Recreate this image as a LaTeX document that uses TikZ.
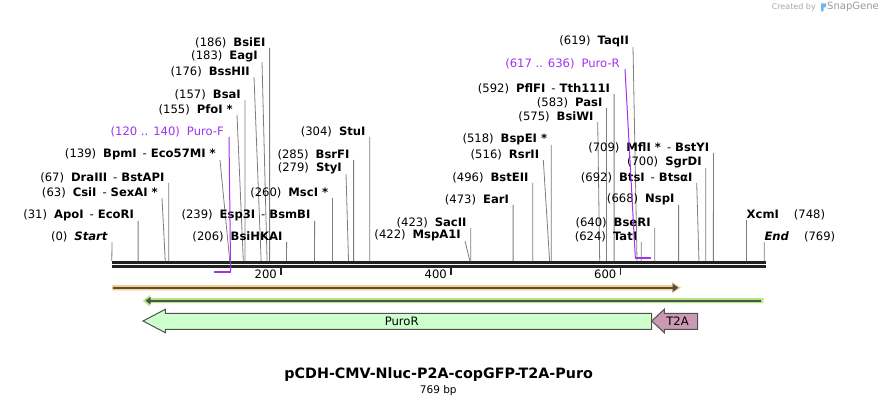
\documentclass[tikz,border=0pt]{standalone}
\usepackage{fontspec}
\setmainfont{DejaVu Sans}[ItalicFont={DejaVu Sans Oblique},BoldItalicFont={DejaVu Sans Bold Oblique}]
\usetikzlibrary{arrows.meta}

\definecolor{cutgray}{RGB}{125,125,125}
\definecolor{primer}{RGB}{160,50,240}
\definecolor{dnablack}{RGB}{34,34,34}
\definecolor{featline}{RGB}{80,80,80}
\definecolor{cmvorange}{RGB}{253,205,130}
\definecolor{bandgreen}{RGB}{175,235,120}
\definecolor{purogreen}{RGB}{204,255,204}
\definecolor{ttapink}{RGB}{204,153,178}
\definecolor{snapblue}{RGB}{110,185,235}

\newcommand{\enz}[2]{(#1)\hspace{7pt}\textbf{#2}}

\begin{document}
\begin{tikzpicture}[
		x=1pt, y=-1pt,
		every node/.style={font=\fontsize{11.6}{13}\selectfont, inner sep=0pt},
		lbl/.style={anchor=south east},
		lblr/.style={anchor=south west},
		oligolbl/.style={anchor=south east, text=primer},
		cut/.style={draw=cutgray, line width=0.8pt},
		oligo/.style={draw=primer, line width=1pt},
		strand/.style={draw=dnablack, line width=2.8pt},
		ruler/.style={draw=dnablack, line width=1.8pt},
		feat/.style={draw=featline, line width=1pt}
		]
		\useasboundingbox (0,0) rectangle (878,406);
		
		% watermark
		\node[font=\fontsize{8}{9}\selectfont, text=black!35, anchor=east] (made) at (816,7) {Created by};
		\fill[snapblue] (821,3.5) rectangle (823.5,11.5) (823.5,3.5) rectangle (826,7.5);
		\node[font=\fontsize{10}{11}\selectfont, text=black!40, anchor=west] (snap) at (827,7) {SnapGene};
		
		% backbone
		\draw[strand] (112,262.3) -- (765.5,262.3);
		\draw[strand] (112,266.6) -- (765.5,266.6);
		
		% ruler
		\foreach \x/\n in {281/200, 451/400, 620.5/600} {
			\draw[ruler] (\x,268) -- (\x,274.5);
			\node[anchor=east] (tick\n) at (\x-4,274.5) {\n};
		}
		
		% cut sites on the top strand
		\foreach \p in {0,31,63,67,139,155,157,176,183,186,206,239,260,279,285,304,
			422,423,473,496,516,518,575,583,592,619,624,640,668,692,700,709,748,769}
		\coordinate (s\p) at ({111.8+0.8485*\p},261);
		
		% enzymes, left part
		\node[lbl] (BsiEI) at (265.6,48) {\enz{186}{BsiEI}};
		\draw[cut] ([xshift=4pt]BsiEI.south east) -- (s186);
		\node[lbl] (EagI) at (258,62) {\enz{183}{EagI}};
		\draw[cut] ([xshift=4pt]EagI.south east) -- (s183);
		\node[lbl] (BssHII) at (250,77) {\enz{176}{BssHII}};
		\draw[cut] ([xshift=4pt]BssHII.south east) -- (s176);
		\node[lbl] (BsaI) at (241,100) {\enz{157}{BsaI}};
		\draw[cut] ([xshift=4pt]BsaI.south east) -- (s157);
		\node[lbl] (PfoI) at (233,115) {\enz{155}{PfoI *}};
		\draw[cut] ([xshift=4pt]PfoI.south east) -- (s155);
		\node[lbl] (BpmI) at (216,160) {\enz{139}{BpmI}\hspace{6pt}-\hspace{4pt}\textbf{Eco57MI *}};
		\draw[cut] ([xshift=4pt]BpmI.south east) -- (s139);
		\node[lbl] (DraIII) at (164.7,183) {\enz{67}{DraIII}\hspace{6pt}-\hspace{4pt}\textbf{BstAPI}};
		\draw[cut] ([xshift=4pt]DraIII.south east) -- (s67);
		\node[lbl] (CsiI) at (158,198) {\enz{63}{CsiI}\hspace{6pt}-\hspace{4pt}\textbf{SexAI *}};
		\draw[cut] ([xshift=4pt]CsiI.south east) -- (s63);
		\node[lbl] (ApoI) at (134.1,221) {\enz{31}{ApoI}\hspace{6pt}-\hspace{4pt}\textbf{EcoRI}};
		\draw[cut] ([xshift=4pt]ApoI.south east) -- (s31);
		\node[lbl] (Start) at (108,242) {(0)\hspace{7pt}\textbf{\textit{Start}}};
		\draw[cut] ([xshift=4pt]Start.south east) -- (s0);
		\node[lbl] (Esp3I) at (310.6,221) {\enz{239}{Esp3I}\hspace{6pt}-\hspace{4pt}\textbf{BsmBI}};
		\draw[cut] ([xshift=4pt]Esp3I.south east) -- (s239);
		\node[lbl] (BsiHKAI) at (282.6,242) {\enz{206}{BsiHKAI}};
		\draw[cut] ([xshift=4pt]BsiHKAI.south east) -- (s206);
		\node[lbl] (MscI) at (328.4,198) {\enz{260}{MscI *}};
		\draw[cut] ([xshift=4pt]MscI.south east) -- (s260);
		\node[lbl] (StyI) at (342,174) {\enz{279}{StyI}};
		\draw[cut] ([xshift=4pt]StyI.south east) -- (s279);
		\node[lbl] (BsrFI) at (349.6,160) {\enz{285}{BsrFI}};
		\draw[cut] ([xshift=4pt]BsrFI.south east) -- (s285);
		\node[lbl] (StuI) at (365.7,137) {\enz{304}{StuI}};
		\draw[cut] ([xshift=4pt]StuI.south east) -- (s304);
		
		% enzymes, middle part
		\node[lbl] (SacII) at (466.7,228) {\enz{423}{SacII}};
		\draw[cut] ([xshift=4pt]SacII.south east) -- (s423);
		\node[lbl] (MspA1I) at (461,241) {\enz{422}{MspA1I}};
		\draw[cut] ([xshift=4pt]MspA1I.south east) -- (s422);
		\node[lbl] (EarI) at (509.1,205) {\enz{473}{EarI}};
		\draw[cut] ([xshift=4pt]EarI.south east) -- (s473);
		\node[lbl] (BstEII) at (528.7,183) {\enz{496}{BstEII}};
		\draw[cut] ([xshift=4pt]BstEII.south east) -- (s496);
		\node[lbl] (RsrII) at (539.3,160) {\enz{516}{RsrII}};
		\draw[cut] ([xshift=4pt]RsrII.south east) -- (s516);
		\node[lbl] (BspEI) at (547.3,145) {\enz{518}{BspEI *}};
		\draw[cut] ([xshift=4pt]BspEI.south east) -- (s518);
		
		% enzymes, right part
		\node[lbl] (BsiWI) at (593.7,122) {\enz{575}{BsiWI}};
		\draw[cut] ([xshift=4pt]BsiWI.south east) -- (s575);
		\node[lbl] (PasI) at (602.5,108) {\enz{583}{PasI}};
		\draw[cut] ([xshift=4pt]PasI.south east) -- (s583);
		\node[lbl] (PflFI) at (610.1,94) {\enz{592}{PflFI}\hspace{6pt}-\hspace{4pt}\textbf{Tth111I}};
		\draw[cut] ([xshift=4pt]PflFI.south east) -- (s592);
		\node[lbl] (TaqII) at (629,47) {\enz{619}{TaqII}};
		\draw[cut] ([xshift=4pt]TaqII.south east) -- (s619);
		\node[lbl] (MflI) at (709.4,153) {\enz{709}{MflI *}\hspace{6pt}-\hspace{4pt}\textbf{BstYI}};
		\draw[cut] ([xshift=4pt]MflI.south east) -- (s709);
		\node[lbl] (SgrDI) at (701.8,168) {\enz{700}{SgrDI}};
		\draw[cut] ([xshift=4pt]SgrDI.south east) -- (s700);
		\node[lbl] (BtsI) at (692.7,183) {\enz{692}{BtsI}\hspace{6pt}-\hspace{4pt}\textbf{BtsαI}};
		\draw[cut] ([xshift=4pt]BtsI.south east) -- (s692);
		\node[lbl] (NspI) at (674.6,205) {\enz{668}{NspI}};
		\draw[cut] ([xshift=4pt]NspI.south east) -- (s668);
		\node[lbl] (BseRI) at (650.8,228) {\enz{640}{BseRI}};
		\draw[cut] ([xshift=4pt]BseRI.south east) -- (s640);
		\node[lbl] (TatI) at (637.3,242) {\enz{624}{TatI}};
		\draw[cut] ([xshift=4pt]TatI.south east) -- (s624);
		\node[lblr] (XcmI) at (746.5,220) {\textbf{XcmI}\hspace{15pt}(748)};
		\draw[cut] (XcmI.south west) -- (s748);
		\node[lblr] (End) at (764.3,242) {\textbf{\textit{End}}\hspace{15pt}(769)};
		\draw[cut] (End.south west) -- (s769);
		
		% primers
		\coordinate (fwdtop) at (230.6,271.5);
		\coordinate (fwdend) at (213.6,271.5);
		\node[oligolbl] (PuroF) at (224,137) {(120 .. 140)\hspace{7pt}Puro-F};
		\draw[oligo] ([xshift=5pt]PuroF.south east) -- (fwdtop);
		\draw[primer, line width=2pt] (fwdtop) -- (fwdend);
		\coordinate (revtop) at (635.3,257.5);
		\coordinate (revend) at (651.4,257.5);
		\node[oligolbl] (PuroR) at (620,69) {(617 .. 636)\hspace{7pt}Puro-R};
		\draw[oligo] ([xshift=5pt]PuroR.south east) -- (revtop);
		\draw[primer, line width=2pt] (revtop) -- (revend);
		
		% feature bands
		\fill[cmvorange] (112,285) -- (672,285) -- (672,282) -- (681,287.7)
		-- (672,293.4) -- (672,290.4) -- (112,290.4) -- cycle;
		\draw[featline, line width=2pt, -{Triangle[length=6pt,width=8pt]}] (113,287.7) -- (678.5,287.7);
		\fill[bandgreen] (763.3,298.2) -- (150,298.2) -- (150,295) -- (142.7,300.7)
		-- (150,306.5) -- (150,303.2) -- (763.3,303.2) -- cycle;
		\draw[featline, line width=2pt, -{Triangle[length=5pt,width=7pt]}] (761,300.7) -- (145.5,300.7);
		
		% ORFs
		\filldraw[feat, fill=purogreen] (143,321) -- (165.3,309.3) -- (165.3,313.3) -- (651.7,313.3)
		-- (651.7,329.3) -- (165.3,329.3) -- (165.3,332.7) -- cycle;
		\node (PuroRorf) at (401.7,321) {PuroR};
		\filldraw[feat, fill=ttapink] (651.7,321) -- (664.3,309.3) -- (664.3,313.3) -- (697.7,313.3)
		-- (697.7,329.3) -- (664.3,329.3) -- (664.3,332.7) -- cycle;
		\node (T2A) at (677.5,321) {T2A};
		
		% title
		\node[font=\bfseries\fontsize{14.3}{16}\selectfont] (title) at (438.7,375) {pCDH-CMV-Nluc-P2A-copGFP-T2A-Puro};
		\node[font=\fontsize{10.5}{12}\selectfont] (length) at (438.3,390.5) {769 bp};
	\end{tikzpicture}
\end{document}
